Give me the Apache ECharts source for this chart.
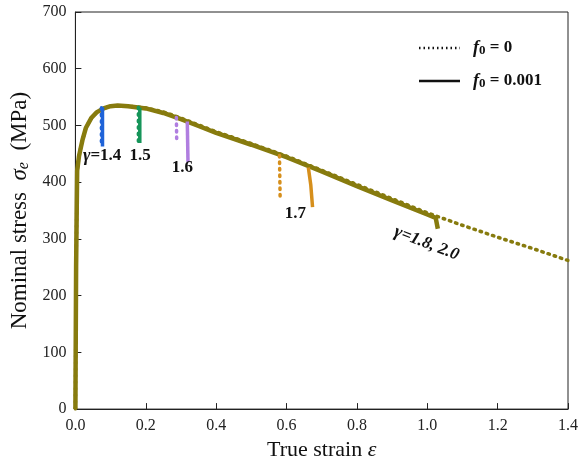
<!DOCTYPE html>
<html><head><meta charset="utf-8">
<script src="https://cdn.jsdelivr.net/npm/echarts@6/dist/echarts.min.js"></script>
<style>html,body{margin:0;padding:0;background:#fff}#c{width:581px;height:466px}</style>
</head><body><div id="c"></div>
<script>
// Main curve (f0 = 0, dotted) strain and stress
const strainMain = [0, 0.002, 0.005, 0.01, 0.015, 0.02, 0.03, 0.045, 0.06, 0.08, 0.1, 0.12, 0.15, 0.2, 0.25, 0.3, 0.35, 0.4, 0.5, 0.6, 0.7, 0.8, 0.9, 1.0, 1.1, 1.2, 1.3, 1.4];
const stressF0 = [0, 250, 420, 445, 460, 474, 496, 513, 523, 530, 534, 535, 534, 531, 524, 513, 501, 489, 468, 446, 421, 396, 371, 346, 324, 303, 283, 262];
// f0 = 0.001 (solid) follows to fracture at 1.024
const strainSolid = [0, 0.002, 0.005, 0.01, 0.015, 0.02, 0.03, 0.045, 0.06, 0.08, 0.1, 0.12, 0.15, 0.2, 0.25, 0.3, 0.35, 0.4, 0.5, 0.6, 0.7, 0.8, 0.9, 1.0, 1.024, 1.03];
const stressSolid = [0, 250, 420, 445, 460, 474, 496, 513, 523, 530, 534, 535, 534, 530, 522, 511, 499, 487, 466, 444, 419, 393, 368, 343, 337, 318];

// Damage drop branches: gamma, color, dotted (f0=0) and solid (f0=0.001)
const gammas = ['1.4', '1.5', '1.6', '1.7'];
const branchColors = ['#1f63d8', '#16955a', '#b07ee0', '#d68f1c'];
const dropDotStrain = [[0.074, 0.074], [0.179, 0.179], [0.287, 0.288], [0.580, 0.582]];
const dropDotStress = [[531, 466], [532, 472], [514, 470], [447, 367]];
const dropSolStrain = [[0.077, 0.077], [0.183, 0.183], [0.318, 0.320], [0.662, 0.669, 0.674]];
const dropSolStress = [[532, 463], [531, 469], [507, 435], [426, 395, 356]];

const xTicks = [0, 0.2, 0.4, 0.6, 0.8, 1.0, 1.2, 1.4];
const yTicks = [0, 100, 200, 300, 400, 500, 600, 700];

const olive = '#877b0e';
const serif = "'Liberation Serif','Times New Roman',serif";

const zip = (xs, ys) => xs.map((x, i) => [x, ys[i]]);
const series = [];
series.push({type:'line', data: zip(strainMain, stressF0), symbol:'none', z:3,
  lineStyle:{color: olive, width:3.5, type:[1.5,5], cap:'round'}});
series.push({type:'line', data: zip(strainSolid, stressSolid), symbol:'none', z:4,
  lineStyle:{color: olive, width:4.5}});
gammas.forEach((g, i) => {
  series.push({type:'line', data: zip(dropDotStrain[i], dropDotStress[i]), symbol:'none', z:5,
    lineStyle:{color: branchColors[i], width:3.5, type:[1.5,5], cap:'round'}});
  series.push({type:'line', data: zip(dropSolStrain[i], dropSolStress[i]), symbol:'none', z:5,
    lineStyle:{color: branchColors[i], width:3.5}});
});

const chart = echarts.init(document.getElementById('c'), null, {renderer:'canvas'});
chart.setOption({
  animation:false,
  grid:{left:75, right:11, top:12, bottom:55, show:true, borderColor:'#222', borderWidth:1},
  xAxis:{type:'value', min:0, max:1.4, interval:0.2,
    name:'True strain {i|ε}', nameLocation:'middle', nameGap:28,
    nameTextStyle:{fontFamily:serif, fontSize:22, color:'#111', rich:{i:{fontFamily:serif, fontSize:22, fontStyle:'italic', color:'#111'}}},
    axisLine:{lineStyle:{color:'#222', width:1}},
    axisTick:{inside:true, length:6, lineStyle:{color:'#222'}},
    splitLine:{show:false},
    axisLabel:{fontFamily:serif, fontSize:16, color:'#222', margin:9, formatter:v=>v.toFixed(1)}},
  yAxis:{type:'value', min:0, max:700, interval:100,
    name:'Nominal stress  {i|σ}{s|e}  (MPa)', nameLocation:'middle', nameGap:42,
    nameTextStyle:{fontFamily:serif, fontSize:23, color:'#111', rich:{i:{fontFamily:serif, fontSize:23, fontStyle:'italic', color:'#111'}, s:{fontFamily:serif, fontSize:16, fontStyle:'italic', color:'#111', verticalAlign:'bottom', padding:[8,0,0,0]}}},
    axisLine:{show:true, lineStyle:{color:'#222', width:1}},
    axisTick:{show:true, inside:true, length:6, lineStyle:{color:'#222'}},
    splitLine:{show:false},
    axisLabel:{fontFamily:serif, fontSize:16, color:'#222', margin:9}},
  series: series
});

// Annotations in data coordinates
const annText = ['{i|γ}=1.4', '1.5', '1.6', '1.7', '{i|γ}=1.8, 2.0'];
const annX = [0.076, 0.184, 0.304, 0.625, 0.998];
const annY = [446, 446, 426, 344, 292];
const annRot = [0, 0, 0, 0, -0.37];
const graphics = annText.map((t, i) => {
  const p = chart.convertToPixel({gridIndex:0}, [annX[i], annY[i]]);
  const ital = i === 4;
  return {type:'text', x:p[0], y:p[1], rotation:annRot[i], z:10,
    style:{text:t, fill:'#111', font:(ital?'italic ':'')+'bold 17px '+serif, align:'center', verticalAlign:'middle',
      rich:{i:{font:'italic bold 18px '+serif, fill:'#111'}}}};
});
// Legend
graphics.push({type:'line', shape:{x1:419,y1:48,x2:460,y2:48}, style:{stroke:'#111', lineWidth:2.5, lineDash:[1.5,3]}, z:10});
graphics.push({type:'line', shape:{x1:419,y1:81,x2:460,y2:81}, style:{stroke:'#111', lineWidth:2.5}, z:10});
graphics.push({type:'text', x:473, y:48, z:10, style:{text:'{f|f}{s|0} = 0', verticalAlign:'middle', font:'bold 17px '+serif, fill:'#111',
  rich:{f:{font:'italic bold 18px '+serif, fill:'#111'}, s:{font:'bold 13px '+serif, fill:'#111', padding:[6,0,0,0]}}}});
graphics.push({type:'text', x:473, y:81, z:10, style:{text:'{f|f}{s|0} = 0.001', verticalAlign:'middle', font:'bold 17px '+serif, fill:'#111',
  rich:{f:{font:'italic bold 18px '+serif, fill:'#111'}, s:{font:'bold 13px '+serif, fill:'#111', padding:[6,0,0,0]}}}});
chart.setOption({graphic: graphics});
</script></body></html>
